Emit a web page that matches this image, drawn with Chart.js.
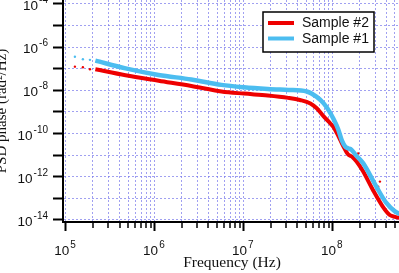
<!DOCTYPE html>
<html>
<head>
<meta charset="utf-8">
<script src="https://cdn.jsdelivr.net/npm/chart.js@4.4.1/dist/chart.umd.min.js"></script>
<style>
  html, body { margin: 0; padding: 0; background: #fff; }
  #wrap { position: relative; width: 399px; height: 273px; overflow: hidden; background: #fff; }
  #c { position: absolute; left: -8px; top: -20px; }
</style>
</head>
<body>
<div id="wrap"><canvas id="c" width="413" height="293"></canvas></div>
<script>
// ---- data ----
const freqS2 = [2.14e5, 4.68e5, 1.1e6, 2.57e6, 5.6e6, 1e7, 1.86e7, 3.16e7, 4.27e7, 5.6e7, 6.6e7, 7.9e7, 9.3e7, 1.02e8, 1.12e8, 1.32e8, 1.48e8, 1.66e8, 1.86e8, 2.19e8, 2.82e8, 3.63e8, 4.37e8, 5.0e8, 5.9e8];
const psdS2  = [9.5e-8, 5.0e-8, 2.8e-8, 1.6e-8, 8.9e-9, 7.1e-9, 5.8e-9, 4.5e-9, 3.6e-9, 2.5e-9, 1.5e-9, 6.3e-10, 3.1e-10, 2.0e-10, 1.0e-10, 2.5e-11, 1.1e-11, 8.3e-12, 5.0e-12, 1.8e-12, 2.5e-13, 4.3e-14, 1.7e-14, 1.4e-14, 1.2e-14];

const freqS1 = [2.14e5, 4.68e5, 1.1e6, 2.57e6, 5.6e6, 1e7, 1.86e7, 3.16e7, 5.1e7, 6.6e7, 7.9e7, 9.1e7, 1.02e8, 1.15e8, 1.26e8, 1.38e8, 1.48e8, 1.62e8, 1.82e8, 2.19e8, 3.09e8, 3.98e8, 5.0e8, 5.9e8];
const psdS1  = [2.4e-7, 1.05e-7, 5.2e-8, 3.2e-8, 1.8e-8, 1.4e-8, 1.17e-8, 1.05e-8, 8.9e-9, 5.0e-9, 2.5e-9, 1.1e-9, 4.7e-10, 1.6e-10, 5.0e-11, 2.5e-11, 2.1e-11, 1.8e-11, 1.0e-11, 4.3e-12, 3.5e-13, 6.3e-14, 2.5e-14, 1.8e-14];

// sparse low-frequency points and scattered outliers
const dotFreqS1 = [1.26e5, 1.55e5, 1.86e5];
const dotPsdS1  = [3.6e-7, 2.75e-7, 2.6e-7];
const dotFreqS2 = [1.26e5, 1.55e5, 1.86e5, 1.93e8, 2.51e8, 3.39e8, 3.24e8];
const dotPsdS2  = [1.26e-7, 1.17e-7, 9.5e-8, 1.2e-11, 1.7e-12, 6.0e-13, 3.5e-13];

const seriesLabels = ['Sample #2', 'Sample #1'];
const seriesColors = ['#ee0000', '#4cbdf0'];

// tick labels: base "10" with exponent
const xMajorTicks = [1e5, 1e6, 1e7, 1e8];
const xTickExps = ['5', '6', '7', '8'];
const xMinorMult = [2, 3, 4, 5, 6, 7, 8, 9];
const xDecades = [1e4, 1e5, 1e6, 1e7, 1e8];

const yTicks = [1e-14, 1e-13, 1e-12, 1e-11, 1e-10, 1e-9, 1e-8, 1e-7, 1e-6, 1e-5, 1e-4];
const yTickExps = ['-14', '', '-12', '', '-10', '', '-8', '', '-6', '', '-4'];

const xTitle = 'Frequency (Hz)';
const yTitle = 'PSD phase (rad\u00B2/Hz)';

// ---- build ----
const pts = (xs, ys) => xs.map((x, i) => ({ x: x, y: ys[i] }));
const xMin = Math.pow(10, 4.9667), xMax = Math.pow(10, 8.767);
const yMin = Math.pow(10, -14.093), yMax = Math.pow(10, -3.815);

const xAllTicks = [];
xDecades.forEach(d => {
  if (d >= 1e5) xAllTicks.push({ value: d, major: true });
  xMinorMult.forEach(m => { const v = d * m; if (v > xMin && v < xMax) xAllTicks.push({ value: v, major: false }); });
});
xAllTicks.sort((a, b) => a.value - b.value);

const baseFont = '13.5px "Liberation Sans", Arial, sans-serif';
const expFont = '10px "Liberation Sans", Arial, sans-serif';

const tickLabelPlugin = {
  id: 'powTickLabels',
  afterDraw(chart) {
    const ctx = chart.ctx, sx = chart.scales.x, sy = chart.scales.y;
    ctx.save();
    ctx.fillStyle = '#111';
    ctx.textAlign = 'left';
    ctx.textBaseline = 'alphabetic';
    // x labels
    xMajorTicks.forEach((v, i) => {
      const px = sx.getPixelForValue(v);
      ctx.font = baseFont; const w1 = ctx.measureText('10').width;
      ctx.font = expFont; const w2 = ctx.measureText(xTickExps[i]).width;
      const x0 = px - (w1 + 1 + w2) / 2 - 1;
      ctx.font = baseFont; ctx.fillText('10', x0, 275);
      ctx.font = expFont; ctx.fillText(xTickExps[i], x0 + w1 + 1, 268);
    });
    // y labels
    yTicks.forEach((v, i) => {
      if (!yTickExps[i]) return;
      const py = sy.getPixelForValue(v);
      const right = 56;
      ctx.font = expFont; const w2 = ctx.measureText(yTickExps[i]).width;
      ctx.font = baseFont; const w1 = ctx.measureText('10').width;
      const x0 = right - w2 - 1 - w1;
      ctx.fillText('10', x0, py + 6);
      ctx.font = expFont; ctx.fillText(yTickExps[i], x0 + w1 + 1, py - 1);
    });
    ctx.restore();
  }
};

const legendPlugin = {
  id: 'boxLegend',
  afterDatasetsDraw(chart) {
    const ctx = chart.ctx;
    const bx = 271, by = 32, bw = 111, bh = 40;
    ctx.save();
    ctx.fillStyle = '#fff';
    ctx.fillRect(bx, by, bw, bh);
    ctx.strokeStyle = '#000';
    ctx.lineWidth = 1.5;
    ctx.strokeRect(bx, by, bw, bh);
    ctx.font = '14px "Liberation Sans", Arial, sans-serif';
    ctx.textBaseline = 'middle';
    ctx.textAlign = 'left';
    seriesLabels.forEach((lab, i) => {
      const yy = by + 11 + i * 15.5;
      ctx.strokeStyle = seriesColors[i];
      ctx.lineWidth = 4;
      ctx.beginPath(); ctx.moveTo(bx + 5, yy); ctx.lineTo(bx + 31, yy); ctx.stroke();
      ctx.fillStyle = '#111';
      ctx.fillText(lab, bx + 39, yy + 0.5);
    });
    ctx.restore();
  }
};

const minorTickPlugin = {
  id: 'minorTicks',
  afterDraw(chart) {
    const sx = chart.scales.x, ctx = chart.ctx, b = chart.chartArea.bottom;
    ctx.save();
    ctx.strokeStyle = '#000';
    ctx.lineWidth = 1.5;
    xAllTicks.filter(t => !t.major).forEach(t => {
      const px = Math.round(sx.getPixelForValue(t.value));
      ctx.beginPath(); ctx.moveTo(px, b); ctx.lineTo(px, b + 6); ctx.stroke();
    });
    ctx.restore();
  }
};

const gridColor = 'rgba(120,120,235,0.7)';

new Chart(document.getElementById('c'), {
  type: 'scatter',
  data: {
    datasets: [
      { label: seriesLabels[1], data: pts(freqS1, psdS1), showLine: true, borderColor: seriesColors[1], backgroundColor: seriesColors[1], borderWidth: 4.5, pointRadius: 0, cubicInterpolationMode: 'monotone' },
      { label: seriesLabels[0], data: pts(freqS2, psdS2), showLine: true, borderColor: seriesColors[0], backgroundColor: seriesColors[0], borderWidth: 4, pointRadius: 0, cubicInterpolationMode: 'monotone' },
      { label: 'S1 points', data: pts(dotFreqS1, dotPsdS1), showLine: false, pointRadius: 1.2, pointBorderWidth: 0, backgroundColor: seriesColors[1] },
      { label: 'S2 points', data: pts(dotFreqS2, dotPsdS2), showLine: false, pointRadius: 1.2, pointBorderWidth: 0, backgroundColor: seriesColors[0] }
    ]
  },
  options: {
    responsive: false,
    animation: false,
    devicePixelRatio: 1,
    layout: { padding: { top: 20, right: 0, left: 0, bottom: 0 } },
    plugins: { legend: { display: false }, tooltip: { enabled: false } },
    scales: {
      x: {
        type: 'logarithmic',
        min: xMin, max: xMax,
        afterFit: s => { s.height = 51; },
        afterBuildTicks: s => { s.ticks = xAllTicks.map(t => ({ value: t.value, major: t.major })); },
        ticks: { display: false, autoSkip: false, maxRotation: 0, minRotation: 0 },
        grid: {
          color: gridColor, lineWidth: 1, drawTicks: true, tickLength: 9,
          tickColor: c => (c.tick && xMajorTicks.indexOf(c.tick.value) >= 0) ? '#000' : 'rgba(0,0,0,0)',
          tickWidth: 2
        },
        border: { display: true, color: '#000', width: 2, dash: [2, 2] },
        title: { display: true, text: xTitle, color: '#111', font: { family: '"Liberation Serif", "Times New Roman", serif', size: 15.5 }, padding: { top: 0, bottom: 1 } }
      },
      y: {
        type: 'logarithmic',
        min: yMin, max: yMax,
        afterFit: s => { s.width = 71; },
        afterBuildTicks: s => { s.ticks = yTicks.map(v => ({ value: v })); },
        ticks: { display: false, autoSkip: false },
        grid: { color: gridColor, lineWidth: 1, drawTicks: true, tickLength: 10, tickColor: '#000', tickWidth: 2 },
        border: { display: true, color: '#000', width: 2, dash: [2, 2] },
        title: { display: true, text: yTitle, color: '#111', font: { family: '"Liberation Serif", "Times New Roman", serif', size: 15 }, padding: { top: 1, bottom: 0 } }
      }
    }
  },
  plugins: [legendPlugin, minorTickPlugin, tickLabelPlugin]
});
</script>
</body>
</html>
